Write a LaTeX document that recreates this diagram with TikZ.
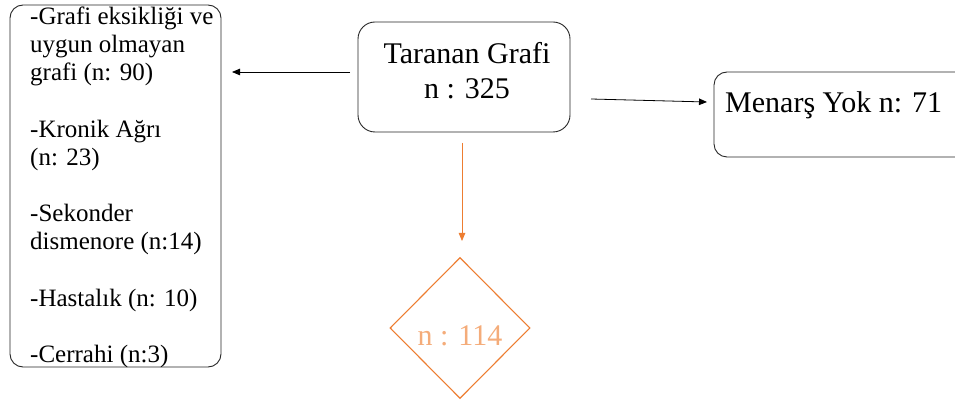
\documentclass[tikz,border=0pt]{standalone}
\usepackage{fontspec}
\setmainfont{Liberation Serif}
\usetikzlibrary{shapes.geometric,arrows.meta}
\definecolor{orline}{RGB}{237,125,49}
\definecolor{ortext}{RGB}{244,172,122}
\begin{document}
\begin{tikzpicture}[x=1pt,y=-1pt,
  box/.style={draw=black!85, line width=0.9pt},
  arr/.style={-{Triangle[length=8pt,width=6.5pt]}, line width=0.8pt}]
\useasboundingbox (0,0) rectangle (955,403);
% left box
\node[box, rounded corners=13pt, minimum width=211pt, minimum height=362pt, inner sep=0] (left) at (115.5,186) {};
\node[anchor=north west, align=left, inner sep=0, font=\fontsize{25}{28}\selectfont] (lefttext) at (30,7)
  {-Grafi eksikliği ve\\ uygun olmayan\\ grafi (n: 90)\\[28.5pt] -Kronik Ağrı\\ (n: 23)\\[28.5pt] -Sekonder\\ dismenore (n:14)\\[28.5pt] -Hastalık (n: 10)\\[28pt] -Cerrahi (n:3)};
% middle box
\node[box, rounded corners=17pt, minimum width=212pt, minimum height=110pt, inner sep=0] (mid) at (464,77) {};
\node[anchor=north, align=center, inner sep=0, font=\fontsize{30}{35}\selectfont] (midtext) at (467,42.5) {Taranan Grafi\\ n : 325};
% right box (cut at the right edge)
\draw[box, rounded corners=13pt] (962,72) -- (714,72) -- (714,157) -- (962,157);
\node[anchor=base west, inner sep=0, font=\fontsize{30}{35}\selectfont] (righttext) at (725,113) {Menarş Yok n: 71};
% arrows
\coordinate (la1) at (350,72); \coordinate (la2) at (232,72);
\draw[arr, black] (la1) -- (la2);
\coordinate (ra1) at (591,99); \coordinate (ra2) at (707,102);
\draw[arr, black] (ra1) -- (ra2);
\coordinate (da1) at (462,143); \coordinate (da2) at (462,241);
\draw[arr, orline] (da1) -- (da2);
% diamond
\node[diamond, draw=orline, line width=1.1pt, minimum width=140pt, minimum height=141pt, inner sep=0] (dia) at (460,328) {};
\node[anchor=base, inner sep=0, text=ortext, font=\fontsize{30}{35}\selectfont] (diatext) at (460,345) {n : 114};
\end{tikzpicture}
\end{document}
